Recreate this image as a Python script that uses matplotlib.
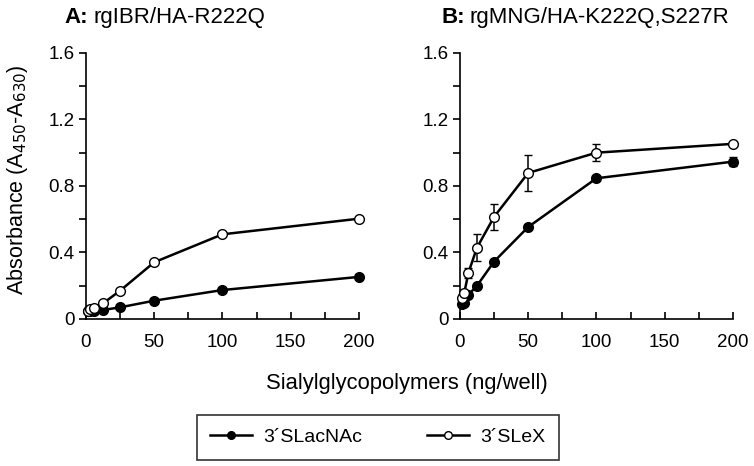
import matplotlib
matplotlib.use("Agg")
import matplotlib.pyplot as plt
from matplotlib.lines import Line2D

plt.rcParams['font.family'] = ['Liberation Sans', 'DejaVu Sans']

conc = [1.5625, 3.125, 6.25, 12.5, 25, 50, 100, 200]

a_lacnac = [0.05, 0.05, 0.05, 0.054, 0.07, 0.11, 0.174, 0.253]
a_lacnac_err = [0, 0, 0, 0, 0, 0, 0, 0]
a_slex = [0.05, 0.058, 0.066, 0.094, 0.17, 0.341, 0.509, 0.603]
a_slex_err = [0, 0, 0, 0, 0, 0, 0, 0]

b_lacnac = [0.09, 0.094, 0.146, 0.2, 0.345, 0.553, 0.846, 0.946]
b_lacnac_err = [0.01, 0.01, 0.01, 0.01, 0.01, 0.01, 0.01, 0.025]
b_slex = [0.128, 0.155, 0.279, 0.429, 0.614, 0.878, 1.0, 1.053]
b_slex_err = [0.02, 0.02, 0.03, 0.08, 0.08, 0.107, 0.05, 0.01]

titles = ["rgIBR/HA-R222Q", "rgMNG/HA-K222Q,S227R"]
letters = ["A:", "B:"]
series_names = ["3\u00b4SLacNAc", "3\u00b4SLeX"]
yticks = [0, 0.4, 0.8, 1.2, 1.6]
yticklabels = ["0", "0.4", "0.8", "1.2", "1.6"]
xticks = [0, 50, 100, 150, 200]

fig = plt.figure(figsize=(7.54, 4.66), dpi=100)
axA = fig.add_axes([0.114, 0.3155, 0.362, 0.571])
axB = fig.add_axes([0.610, 0.3155, 0.362, 0.571])

data = [
    (axA, a_lacnac, a_lacnac_err, a_slex, a_slex_err),
    (axB, b_lacnac, b_lacnac_err, b_slex, b_slex_err),
]

for i, (ax, fl, fle, op, ope) in enumerate(data):
    ax.errorbar(conc, fl, yerr=fle, color='black', lw=1.8, marker='o', ms=7,
                mfc='black', mec='black', mew=1, capsize=3, elinewidth=1.1,
                capthick=1.1, clip_on=False, zorder=3)
    ax.errorbar(conc, op, yerr=ope, color='black', lw=1.8, marker='o', ms=7,
                mfc='white', mec='black', mew=1, capsize=3, elinewidth=1.1,
                capthick=1.1, clip_on=False, zorder=4)
    ax.set_xlim(0, 200)
    ax.set_ylim(0, 1.6)
    ax.set_yticks(yticks)
    ax.set_yticklabels(yticklabels)
    ax.set_yticks([0.2, 0.6, 1.0, 1.4], minor=True)
    ax.set_xticks(xticks)
    ax.set_xticks([25, 75, 125, 175], minor=True)
    for s in ['top', 'right']:
        ax.spines[s].set_visible(False)
    for s in ['left', 'bottom']:
        ax.spines[s].set_linewidth(1.2)
    ax.tick_params(axis='y', which='both', direction='out', length=5, width=1.2,
                   labelsize=13.5, pad=3)
    ax.tick_params(axis='x', which='both', direction='in', length=5, width=1.2,
                   labelsize=13.5, pad=11)

fig.canvas.draw()
renderer = fig.canvas.get_renderer()
for lx, letter, title in [(0.086, letters[0], titles[0]), (0.585, letters[1], titles[1])]:
    t1 = fig.text(lx, 0.962, letter, fontsize=16, fontweight='bold', va='center', ha='left')
    bb = t1.get_window_extent(renderer=renderer)
    x2 = (bb.x1 + 5) / fig.bbox.width
    fig.text(x2, 0.962, title, fontsize=16, va='center', ha='left')

fig.text(0.023, 0.614, r"Absorbance (A$_{450}$-A$_{630}$)", rotation=90,
         fontsize=15.5, va='center', ha='center')
fig.text(0.539, 0.178, "Sialylglycopolymers (ng/well)", fontsize=15.8,
         ha='center', va='center')

handles = [
    Line2D([0], [0], color='black', lw=1.8, marker='o', ms=5.5, mfc='black', mec='black'),
    Line2D([0], [0], color='black', lw=1.8, marker='o', ms=5.5, mfc='white', mec='black'),
]
leg = fig.legend(handles, series_names, loc='center', bbox_to_anchor=(0.501, 0.062),
                 ncol=2, frameon=True, fancybox=False, edgecolor='black',
                 fontsize=14, handlelength=2.15, columnspacing=3.3,
                 borderpad=0.7, handletextpad=0.6, borderaxespad=0)
leg.get_frame().set_linewidth(1.2)

fig.savefig("out.png", dpi=100)
